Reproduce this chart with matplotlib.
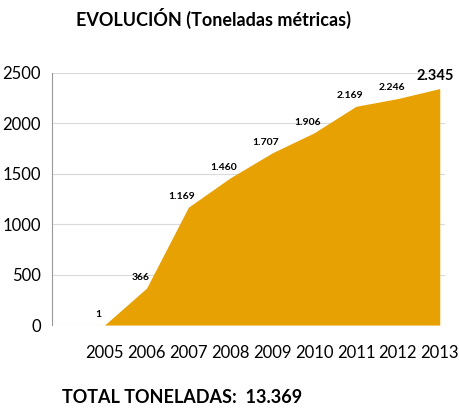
import matplotlib.pyplot as plt

plt.rcParams["font.family"] = ["Lato", "DejaVu Sans"]

years = [2005, 2006, 2007, 2008, 2009, 2010, 2011, 2012, 2013]
toneladas = [1, 366, 1169, 1460, 1707, 1906, 2169, 2246, 2345]
etiquetas = ["1", "366", "1.169", "1.460", "1.707", "1.906", "2.169", "2.246", "2.345"]

fig = plt.figure(figsize=(4.59, 4.12), dpi=100)
ax = fig.add_axes([0.113, 0.211, 0.856, 0.612])

ax.fill_between(years, toneladas, 0, color="#E8A102", lw=0, zorder=2)
ax.set_xlim(2003.74, 2013.12)
ax.set_ylim(0, 2500)
ax.set_xticks(years)
ax.set_yticks(range(0, 2501, 500))
ax.grid(axis="y", color="#d9d9d9", lw=0.8, zorder=0)
for s in ["top", "right", "bottom"]:
    ax.spines[s].set_visible(False)
ax.spines["left"].set_color("#999999")
ax.tick_params(axis="both", length=0, labelsize=12, pad=8)
ax.tick_params(axis="x", pad=14)

for i, (x, y) in enumerate(zip(years, toneladas)):
    last = i == len(years) - 1
    ax.text(x - (0.15 if not last else 0.1), y + 60, etiquetas[i],
            ha="center", va="bottom", fontsize=10.5 if last else 7.5,
            fontweight="bold", zorder=3)

fig.text(0.165, 0.955, "EVOLUCIÓN (Toneladas métricas)", fontsize=13,
         fontweight="bold", va="center")
fig.text(0.135, 0.035, "TOTAL TONELADAS:  13.369", fontsize=13,
         fontweight="bold", va="center")

fig.savefig("out.png", dpi=100)
